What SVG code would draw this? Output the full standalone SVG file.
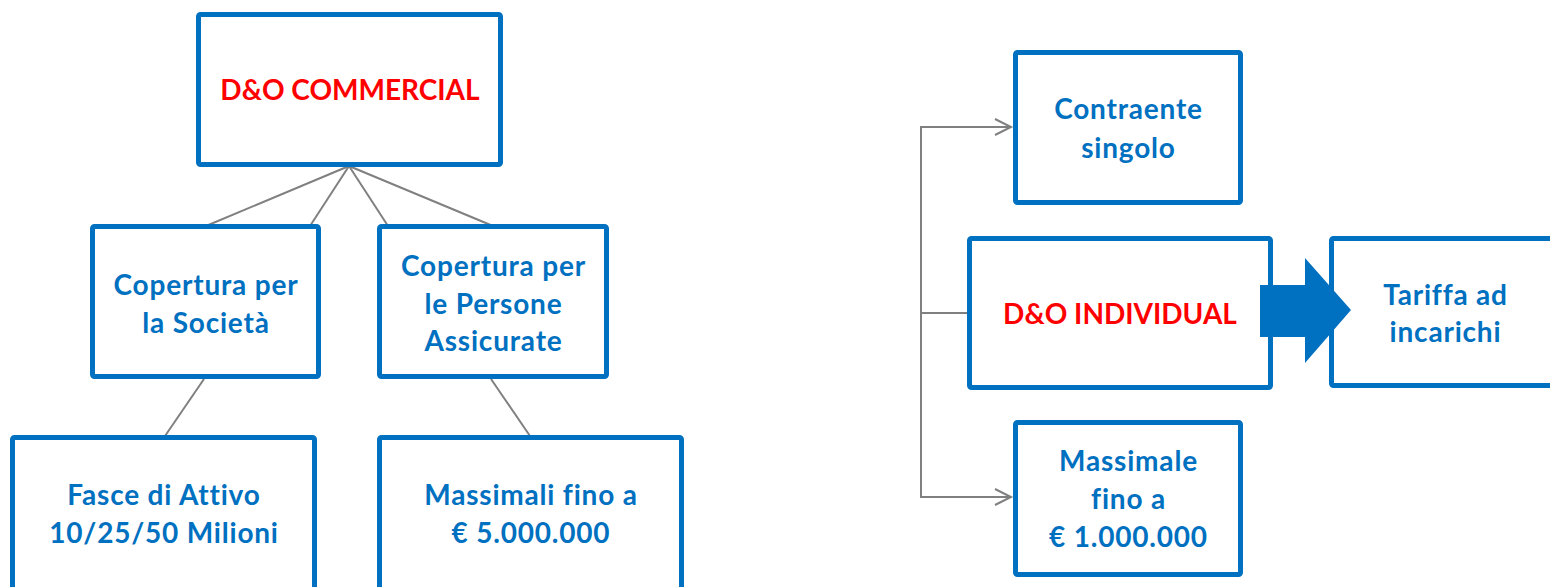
<svg xmlns="http://www.w3.org/2000/svg" width="1550" height="587" viewBox="0 0 1550 587">
<style>
.box{fill:#fff;stroke:#0070C0;stroke-width:5}
.t{font-family:Lato,"Liberation Sans",sans-serif;font-weight:bold;font-size:28px;fill:#0070C0;text-anchor:middle;letter-spacing:0.8px;font-variant-ligatures:none}
.r{fill:#FF0000;letter-spacing:0}
.ln{stroke:#808080;stroke-width:2;fill:none}
</style>
<defs>
<marker id="open" markerWidth="20" markerHeight="20" refX="17" refY="9" orient="auto" markerUnits="userSpaceOnUse">
<path d="M1,1 L17,9 L1,17" fill="none" stroke="#808080" stroke-width="2"/>
</marker>
</defs>
<rect width="1550" height="587" fill="#fff"/>
<g id="connectors">
<line class="ln" x1="349" y1="166" x2="206" y2="226"/>
<line class="ln" x1="349" y1="166" x2="310" y2="226"/>
<line class="ln" x1="349" y1="166" x2="388" y2="226"/>
<line class="ln" x1="349" y1="166" x2="493" y2="226"/>
<line class="ln" x1="204" y1="379" x2="165" y2="436"/>
<line class="ln" x1="491" y1="379" x2="530" y2="436"/>
<path class="ln" d="M921,313 V127 H1011" marker-end="url(#open)"/>
<path class="ln" d="M921,313 V497 H1011" marker-end="url(#open)"/>
<line class="ln" x1="921" y1="313" x2="968" y2="313"/>
</g>
<g id="n-commercial">
<rect class="box" x="198.5" y="14.5" width="302" height="150" rx="2"/>
<text class="t r" x="350" y="100">D&amp;O COMMERCIAL</text>
</g>
<g id="n-societa">
<rect class="box" x="92.5" y="226.5" width="226" height="150" rx="2"/>
<text class="t" x="206" y="295">Copertura per</text>
<text class="t" x="206" y="333">la Società</text>
</g>
<g id="n-persone">
<rect class="box" x="379.5" y="226.5" width="227" height="150" rx="2"/>
<text class="t" x="493.5" y="276">Copertura per</text>
<text class="t" x="493.5" y="314">le Persone</text>
<text class="t" x="493.5" y="351">Assicurate</text>
</g>
<g id="n-fasce">
<rect class="box" x="12.5" y="437.5" width="302" height="160" rx="2"/>
<text class="t" x="164" y="505">Fasce di Attivo</text>
<text class="t" x="164" y="543">10/25/50 Milioni</text>
</g>
<g id="n-massimali">
<rect class="box" x="379.5" y="437.5" width="302" height="160" rx="2"/>
<text class="t" x="531" y="505">Massimali fino a</text>
<text class="t" x="531" y="543">€ 5.000.000</text>
</g>
<g id="n-contraente">
<rect class="box" x="1015.5" y="52.5" width="225" height="150" rx="2"/>
<text class="t" x="1128.5" y="119">Contraente</text>
<text class="t" x="1128.5" y="158">singolo</text>
</g>
<g id="n-individual">
<rect class="box" x="969.5" y="238.5" width="301" height="149" rx="2"/>
<text class="t r" x="1120" y="324">D&amp;O INDIVIDUAL</text>
</g>
<g id="n-tariffa">
<rect class="box" x="1331.5" y="238.5" width="240" height="147" rx="2"/>
<text class="t" x="1445.5" y="305">Tariffa ad</text>
<text class="t" x="1445.5" y="342">incarichi</text>
</g>
<g id="big-arrow">
<path d="M1260,285 H1305 V258 L1351,310 L1305,363 V337 H1260 Z" fill="#0070C0"/>
</g>
<g id="n-massimale">
<rect class="box" x="1015.5" y="422.5" width="225" height="152" rx="2"/>
<text class="t" x="1128.5" y="471">Massimale</text>
<text class="t" x="1128.5" y="509">fino a</text>
<text class="t" x="1128.5" y="547">€ 1.000.000</text>
</g>
</svg>
